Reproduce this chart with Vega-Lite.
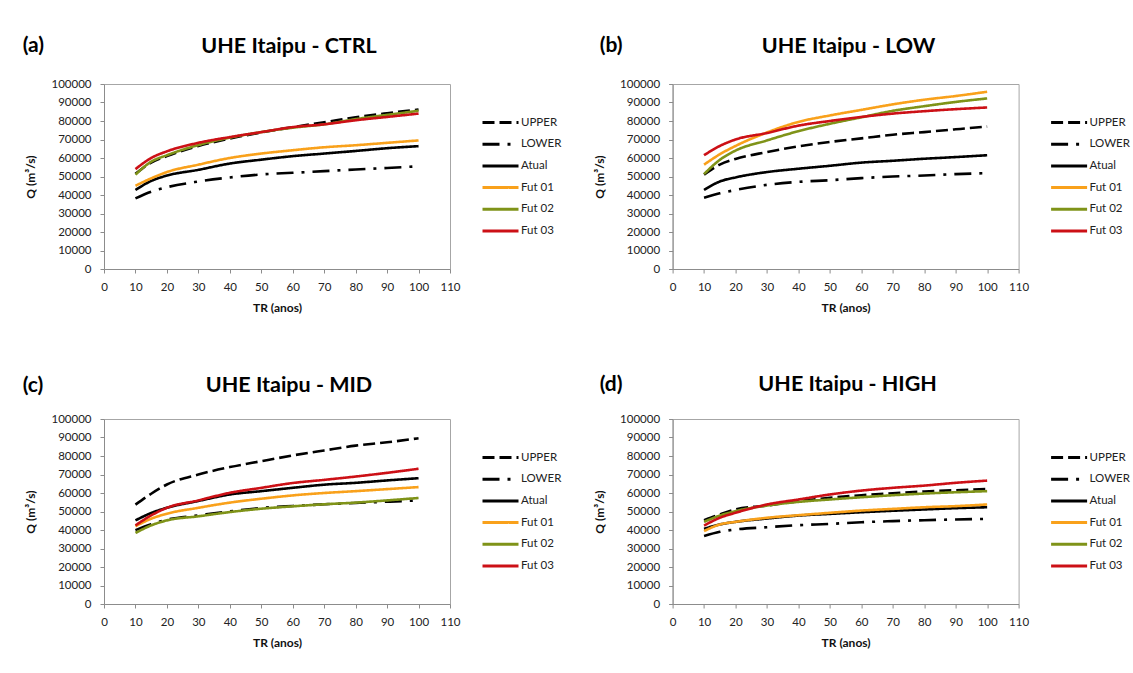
{
  "$schema": "https://vega.github.io/schema/vega-lite/v6.json",
  "padding": {"left": 22, "top": 34, "right": 0, "bottom": 0},
  "background": "white",
  "datasets": {"q": [
    {"p":"a","s":"UPPER","t":10,"q":51500},{"p":"a","s":"UPPER","t":15,"q":57500},{"p":"a","s":"UPPER","t":20,"q":61000},{"p":"a","s":"UPPER","t":30,"q":66500},{"p":"a","s":"UPPER","t":40,"q":70500},{"p":"a","s":"UPPER","t":50,"q":73800},{"p":"a","s":"UPPER","t":60,"q":76700},{"p":"a","s":"UPPER","t":70,"q":79300},{"p":"a","s":"UPPER","t":80,"q":82000},{"p":"a","s":"UPPER","t":90,"q":84200},{"p":"a","s":"UPPER","t":100,"q":86200},
    {"p":"a","s":"LOWER","t":10,"q":38200},{"p":"a","s":"LOWER","t":15,"q":41800},{"p":"a","s":"LOWER","t":20,"q":44200},{"p":"a","s":"LOWER","t":30,"q":47300},{"p":"a","s":"LOWER","t":40,"q":49500},{"p":"a","s":"LOWER","t":50,"q":51100},{"p":"a","s":"LOWER","t":60,"q":52000},{"p":"a","s":"LOWER","t":70,"q":52900},{"p":"a","s":"LOWER","t":80,"q":53800},{"p":"a","s":"LOWER","t":90,"q":54600},{"p":"a","s":"LOWER","t":100,"q":55500},
    {"p":"a","s":"Atual","t":10,"q":42700},{"p":"a","s":"Atual","t":15,"q":47600},{"p":"a","s":"Atual","t":20,"q":50500},{"p":"a","s":"Atual","t":30,"q":53600},{"p":"a","s":"Atual","t":40,"q":57000},{"p":"a","s":"Atual","t":50,"q":59100},{"p":"a","s":"Atual","t":60,"q":61000},{"p":"a","s":"Atual","t":70,"q":62400},{"p":"a","s":"Atual","t":80,"q":63800},{"p":"a","s":"Atual","t":90,"q":65300},{"p":"a","s":"Atual","t":100,"q":66400},
    {"p":"a","s":"Fut 01","t":10,"q":45000},{"p":"a","s":"Fut 01","t":15,"q":49000},{"p":"a","s":"Fut 01","t":20,"q":52400},{"p":"a","s":"Fut 01","t":30,"q":56400},{"p":"a","s":"Fut 01","t":40,"q":60000},{"p":"a","s":"Fut 01","t":50,"q":62400},{"p":"a","s":"Fut 01","t":60,"q":64200},{"p":"a","s":"Fut 01","t":70,"q":65800},{"p":"a","s":"Fut 01","t":80,"q":66900},{"p":"a","s":"Fut 01","t":90,"q":68200},{"p":"a","s":"Fut 01","t":100,"q":69500},
    {"p":"a","s":"Fut 02","t":10,"q":51000},{"p":"a","s":"Fut 02","t":15,"q":58000},{"p":"a","s":"Fut 02","t":20,"q":61500},{"p":"a","s":"Fut 02","t":30,"q":67000},{"p":"a","s":"Fut 02","t":40,"q":71000},{"p":"a","s":"Fut 02","t":50,"q":74000},{"p":"a","s":"Fut 02","t":60,"q":76400},{"p":"a","s":"Fut 02","t":70,"q":78200},{"p":"a","s":"Fut 02","t":80,"q":81000},{"p":"a","s":"Fut 02","t":90,"q":83300},{"p":"a","s":"Fut 02","t":100,"q":85500},
    {"p":"a","s":"Fut 03","t":10,"q":54000},{"p":"a","s":"Fut 03","t":15,"q":60000},{"p":"a","s":"Fut 03","t":20,"q":63600},{"p":"a","s":"Fut 03","t":30,"q":68200},{"p":"a","s":"Fut 03","t":40,"q":71300},{"p":"a","s":"Fut 03","t":50,"q":74000},{"p":"a","s":"Fut 03","t":60,"q":76700},{"p":"a","s":"Fut 03","t":70,"q":78200},{"p":"a","s":"Fut 03","t":80,"q":80400},{"p":"a","s":"Fut 03","t":90,"q":82200},{"p":"a","s":"Fut 03","t":100,"q":84000},

    {"p":"b","s":"UPPER","t":10,"q":51000},{"p":"b","s":"UPPER","t":15,"q":56400},{"p":"b","s":"UPPER","t":20,"q":59500},{"p":"b","s":"UPPER","t":30,"q":63200},{"p":"b","s":"UPPER","t":40,"q":66300},{"p":"b","s":"UPPER","t":50,"q":68700},{"p":"b","s":"UPPER","t":60,"q":70600},{"p":"b","s":"UPPER","t":70,"q":72600},{"p":"b","s":"UPPER","t":80,"q":74000},{"p":"b","s":"UPPER","t":90,"q":75500},{"p":"b","s":"UPPER","t":100,"q":77000},
    {"p":"b","s":"LOWER","t":10,"q":38500},{"p":"b","s":"LOWER","t":15,"q":40900},{"p":"b","s":"LOWER","t":20,"q":42700},{"p":"b","s":"LOWER","t":30,"q":45500},{"p":"b","s":"LOWER","t":40,"q":47100},{"p":"b","s":"LOWER","t":50,"q":48000},{"p":"b","s":"LOWER","t":60,"q":49100},{"p":"b","s":"LOWER","t":70,"q":50000},{"p":"b","s":"LOWER","t":80,"q":50500},{"p":"b","s":"LOWER","t":90,"q":51300},{"p":"b","s":"LOWER","t":100,"q":51800},
    {"p":"b","s":"Atual","t":10,"q":42700},{"p":"b","s":"Atual","t":15,"q":47300},{"p":"b","s":"Atual","t":20,"q":49500},{"p":"b","s":"Atual","t":30,"q":52400},{"p":"b","s":"Atual","t":40,"q":54200},{"p":"b","s":"Atual","t":50,"q":55800},{"p":"b","s":"Atual","t":60,"q":57500},{"p":"b","s":"Atual","t":70,"q":58500},{"p":"b","s":"Atual","t":80,"q":59600},{"p":"b","s":"Atual","t":90,"q":60500},{"p":"b","s":"Atual","t":100,"q":61500},
    {"p":"b","s":"Fut 01","t":10,"q":56400},{"p":"b","s":"Fut 01","t":15,"q":62000},{"p":"b","s":"Fut 01","t":20,"q":66500},{"p":"b","s":"Fut 01","t":30,"q":73800},{"p":"b","s":"Fut 01","t":40,"q":79500},{"p":"b","s":"Fut 01","t":50,"q":83000},{"p":"b","s":"Fut 01","t":60,"q":86000},{"p":"b","s":"Fut 01","t":70,"q":89000},{"p":"b","s":"Fut 01","t":80,"q":91500},{"p":"b","s":"Fut 01","t":90,"q":93500},{"p":"b","s":"Fut 01","t":100,"q":95800},
    {"p":"b","s":"Fut 02","t":10,"q":51300},{"p":"b","s":"Fut 02","t":15,"q":59000},{"p":"b","s":"Fut 02","t":20,"q":64000},{"p":"b","s":"Fut 02","t":30,"q":69500},{"p":"b","s":"Fut 02","t":40,"q":74500},{"p":"b","s":"Fut 02","t":50,"q":78500},{"p":"b","s":"Fut 02","t":60,"q":82000},{"p":"b","s":"Fut 02","t":70,"q":85500},{"p":"b","s":"Fut 02","t":80,"q":88000},{"p":"b","s":"Fut 02","t":90,"q":90300},{"p":"b","s":"Fut 02","t":100,"q":92200},
    {"p":"b","s":"Fut 03","t":10,"q":61500},{"p":"b","s":"Fut 03","t":15,"q":66500},{"p":"b","s":"Fut 03","t":20,"q":70000},{"p":"b","s":"Fut 03","t":30,"q":73500},{"p":"b","s":"Fut 03","t":40,"q":77500},{"p":"b","s":"Fut 03","t":50,"q":80000},{"p":"b","s":"Fut 03","t":60,"q":82200},{"p":"b","s":"Fut 03","t":70,"q":84000},{"p":"b","s":"Fut 03","t":80,"q":85300},{"p":"b","s":"Fut 03","t":90,"q":86400},{"p":"b","s":"Fut 03","t":100,"q":87300},

    {"p":"c","s":"UPPER","t":10,"q":53700},{"p":"c","s":"UPPER","t":15,"q":59600},{"p":"c","s":"UPPER","t":20,"q":64600},{"p":"c","s":"UPPER","t":30,"q":70000},{"p":"c","s":"UPPER","t":40,"q":74000},{"p":"c","s":"UPPER","t":50,"q":77200},{"p":"c","s":"UPPER","t":60,"q":80300},{"p":"c","s":"UPPER","t":70,"q":83000},{"p":"c","s":"UPPER","t":80,"q":85600},{"p":"c","s":"UPPER","t":90,"q":87400},{"p":"c","s":"UPPER","t":100,"q":89600},
    {"p":"c","s":"LOWER","t":10,"q":39900},{"p":"c","s":"LOWER","t":15,"q":43100},{"p":"c","s":"LOWER","t":20,"q":45600},{"p":"c","s":"LOWER","t":30,"q":47900},{"p":"c","s":"LOWER","t":40,"q":50100},{"p":"c","s":"LOWER","t":50,"q":51900},{"p":"c","s":"LOWER","t":60,"q":53000},{"p":"c","s":"LOWER","t":70,"q":53900},{"p":"c","s":"LOWER","t":80,"q":54600},{"p":"c","s":"LOWER","t":90,"q":55300},{"p":"c","s":"LOWER","t":100,"q":56000},
    {"p":"c","s":"Atual","t":10,"q":45200},{"p":"c","s":"Atual","t":15,"q":49200},{"p":"c","s":"Atual","t":20,"q":52000},{"p":"c","s":"Atual","t":30,"q":55700},{"p":"c","s":"Atual","t":40,"q":59200},{"p":"c","s":"Atual","t":50,"q":61000},{"p":"c","s":"Atual","t":60,"q":62800},{"p":"c","s":"Atual","t":70,"q":64500},{"p":"c","s":"Atual","t":80,"q":65500},{"p":"c","s":"Atual","t":90,"q":66800},{"p":"c","s":"Atual","t":100,"q":68000},
    {"p":"c","s":"Fut 01","t":10,"q":42000},{"p":"c","s":"Fut 01","t":15,"q":46100},{"p":"c","s":"Fut 01","t":20,"q":48800},{"p":"c","s":"Fut 01","t":30,"q":52000},{"p":"c","s":"Fut 01","t":40,"q":54800},{"p":"c","s":"Fut 01","t":50,"q":56900},{"p":"c","s":"Fut 01","t":60,"q":58700},{"p":"c","s":"Fut 01","t":70,"q":60000},{"p":"c","s":"Fut 01","t":80,"q":61000},{"p":"c","s":"Fut 01","t":90,"q":62100},{"p":"c","s":"Fut 01","t":100,"q":63200},
    {"p":"c","s":"Fut 02","t":10,"q":38400},{"p":"c","s":"Fut 02","t":15,"q":42500},{"p":"c","s":"Fut 02","t":20,"q":45200},{"p":"c","s":"Fut 02","t":30,"q":47400},{"p":"c","s":"Fut 02","t":40,"q":49700},{"p":"c","s":"Fut 02","t":50,"q":51500},{"p":"c","s":"Fut 02","t":60,"q":52800},{"p":"c","s":"Fut 02","t":70,"q":53900},{"p":"c","s":"Fut 02","t":80,"q":54800},{"p":"c","s":"Fut 02","t":90,"q":56000},{"p":"c","s":"Fut 02","t":100,"q":57300},
    {"p":"c","s":"Fut 03","t":10,"q":42500},{"p":"c","s":"Fut 03","t":15,"q":47900},{"p":"c","s":"Fut 03","t":20,"q":52000},{"p":"c","s":"Fut 03","t":30,"q":56000},{"p":"c","s":"Fut 03","t":40,"q":60100},{"p":"c","s":"Fut 03","t":50,"q":62800},{"p":"c","s":"Fut 03","t":60,"q":65400},{"p":"c","s":"Fut 03","t":70,"q":67100},{"p":"c","s":"Fut 03","t":80,"q":68900},{"p":"c","s":"Fut 03","t":90,"q":70900},{"p":"c","s":"Fut 03","t":100,"q":73100},

    {"p":"d","s":"UPPER","t":10,"q":45300},{"p":"d","s":"UPPER","t":15,"q":48400},{"p":"d","s":"UPPER","t":20,"q":51100},{"p":"d","s":"UPPER","t":30,"q":53200},{"p":"d","s":"UPPER","t":40,"q":55600},{"p":"d","s":"UPPER","t":50,"q":57400},{"p":"d","s":"UPPER","t":60,"q":58800},{"p":"d","s":"UPPER","t":70,"q":59900},{"p":"d","s":"UPPER","t":80,"q":60800},{"p":"d","s":"UPPER","t":90,"q":61500},{"p":"d","s":"UPPER","t":100,"q":62200},
    {"p":"d","s":"LOWER","t":10,"q":36700},{"p":"d","s":"LOWER","t":15,"q":39000},{"p":"d","s":"LOWER","t":20,"q":40300},{"p":"d","s":"LOWER","t":30,"q":41500},{"p":"d","s":"LOWER","t":40,"q":42600},{"p":"d","s":"LOWER","t":50,"q":43300},{"p":"d","s":"LOWER","t":60,"q":44200},{"p":"d","s":"LOWER","t":70,"q":44800},{"p":"d","s":"LOWER","t":80,"q":45300},{"p":"d","s":"LOWER","t":90,"q":45700},{"p":"d","s":"LOWER","t":100,"q":46000},
    {"p":"d","s":"Atual","t":10,"q":40600},{"p":"d","s":"Atual","t":15,"q":43000},{"p":"d","s":"Atual","t":20,"q":44400},{"p":"d","s":"Atual","t":30,"q":46200},{"p":"d","s":"Atual","t":40,"q":47800},{"p":"d","s":"Atual","t":50,"q":48700},{"p":"d","s":"Atual","t":60,"q":49600},{"p":"d","s":"Atual","t":70,"q":50400},{"p":"d","s":"Atual","t":80,"q":51100},{"p":"d","s":"Atual","t":90,"q":51800},{"p":"d","s":"Atual","t":100,"q":52300},
    {"p":"d","s":"Fut 01","t":10,"q":39400},{"p":"d","s":"Fut 01","t":15,"q":43000},{"p":"d","s":"Fut 01","t":20,"q":44400},{"p":"d","s":"Fut 01","t":30,"q":46600},{"p":"d","s":"Fut 01","t":40,"q":48000},{"p":"d","s":"Fut 01","t":50,"q":49300},{"p":"d","s":"Fut 01","t":60,"q":50500},{"p":"d","s":"Fut 01","t":70,"q":51400},{"p":"d","s":"Fut 01","t":80,"q":52300},{"p":"d","s":"Fut 01","t":90,"q":52900},{"p":"d","s":"Fut 01","t":100,"q":53800},
    {"p":"d","s":"Fut 02","t":10,"q":44400},{"p":"d","s":"Fut 02","t":15,"q":47800},{"p":"d","s":"Fut 02","t":20,"q":50200},{"p":"d","s":"Fut 02","t":30,"q":53200},{"p":"d","s":"Fut 02","t":40,"q":55200},{"p":"d","s":"Fut 02","t":50,"q":56500},{"p":"d","s":"Fut 02","t":60,"q":57700},{"p":"d","s":"Fut 02","t":70,"q":58800},{"p":"d","s":"Fut 02","t":80,"q":59700},{"p":"d","s":"Fut 02","t":90,"q":60400},{"p":"d","s":"Fut 02","t":100,"q":61000},
    {"p":"d","s":"Fut 03","t":10,"q":42400},{"p":"d","s":"Fut 03","t":15,"q":46600},{"p":"d","s":"Fut 03","t":20,"q":49300},{"p":"d","s":"Fut 03","t":30,"q":53800},{"p":"d","s":"Fut 03","t":40,"q":56500},{"p":"d","s":"Fut 03","t":50,"q":59200},{"p":"d","s":"Fut 03","t":60,"q":61300},{"p":"d","s":"Fut 03","t":70,"q":62800},{"p":"d","s":"Fut 03","t":80,"q":64000},{"p":"d","s":"Fut 03","t":90,"q":65500},{"p":"d","s":"Fut 03","t":100,"q":66700}
  ],
  "labels": [{"p":"a","lab":"(a)"},{"p":"b","lab":"(b)"},{"p":"c","lab":"(c)"},{"p":"d","lab":"(d)"}]},
  "config": {
    "font": "Lato",
    "view": {"stroke": "#a6a6a6", "strokeWidth": 1},
    "title": {"font": "Lato", "fontSize": 21.5, "fontWeight": "bold", "color": "#000000"},
    "axis": {"grid": false, "labelOverlap": false, "labelFlush": false, "labelFont": "Lato", "labelFontSize": 11.5, "labelColor": "#222222", "titleFont": "Lato", "titleFontSize": 12, "titleFontWeight": "bold", "titleColor": "#111111", "domainColor": "#8c8c8c", "tickColor": "#8c8c8c", "tickSize": 4},
    "axisX": {"labelPadding": 8, "titlePadding": 10},
    "axisY": {"labelPadding": 9, "titlePadding": 13},
    "legend": {"orient": "none", "legendX": 386, "legendY": 28, "labelFont": "Lato", "labelFontSize": 11.5, "labelColor": "#222222", "symbolType": "M-2,0H2", "symbolSize": 324, "symbolStrokeWidth": 3, "labelOffset": 10, "rowPadding": 4.7, "padding": 0},
    "text": {"font": "Lato", "fontSize": 21, "fontWeight": "bold", "color": "#000000", "align": "left", "baseline": "middle"}
  },
  "concat": [
    {"title": {"text": "UHE Itaipu - CTRL", "dx": 12, "offset": -22}, "width": 346, "height": 185,
     "layer": [
      {"data": {"name": "q"}, "transform": [{"filter": "datum.p === 'a'"}],
       "mark": {"type": "line", "strokeWidth": 2.6, "interpolate": "monotone"},
       "encoding": {
         "x": {"field": "t", "type": "quantitative", "scale": {"domain": [0, 110]}, "axis": {"title": "TR (anos)", "values": [0,10,20,30,40,50,60,70,80,90,100,110]}},
         "y": {"field": "q", "type": "quantitative", "scale": {"domain": [0, 100000]}, "axis": {"title": "Q (m³/s)", "format": "d", "values": [0,10000,20000,30000,40000,50000,60000,70000,80000,90000,100000]}},
         "color": {"field": "s", "type": "nominal", "scale": {"domain": ["UPPER","LOWER","Atual","Fut 01","Fut 02","Fut 03"], "range": ["#000000","#000000","#000000","#f9a11b","#7f9318","#cc1016"]}, "legend": {"title": null}},
         "strokeDash": {"field": "s", "type": "nominal", "scale": {"domain": ["UPPER","LOWER","Atual","Fut 01","Fut 02","Fut 03"], "range": [[12,5],[17,8,3,8],[1,0],[1,0],[1,0],[1,0]]}, "legend": {"title": null}}
       }},
      {"data": {"name": "labels"}, "transform": [{"filter": "datum.p === 'a'"}],
       "mark": {"type": "text"}, "encoding": {"text": {"field": "lab"},
         "x": {"datum": -25.85, "type": "quantitative", "axis": {"title": "TR (anos)", "values": [0,10,20,30,40,50,60,70,80,90,100,110]}},
         "y": {"datum": 120540, "type": "quantitative", "axis": {"title": "Q (m³/s)", "format": "d", "values": [0,10000,20000,30000,40000,50000,60000,70000,80000,90000,100000]}}}}
     ]},
    {"title": {"text": "UHE Itaipu - LOW", "dx": 3, "offset": -22}, "width": 346, "height": 185,
     "layer": [
      {"data": {"name": "q"}, "transform": [{"filter": "datum.p === 'b'"}],
       "mark": {"type": "line", "strokeWidth": 2.6, "interpolate": "monotone"},
       "encoding": {
         "x": {"field": "t", "type": "quantitative", "scale": {"domain": [0, 110]}, "axis": {"title": "TR (anos)", "values": [0,10,20,30,40,50,60,70,80,90,100,110]}},
         "y": {"field": "q", "type": "quantitative", "scale": {"domain": [0, 100000]}, "axis": {"title": "Q (m³/s)", "format": "d", "values": [0,10000,20000,30000,40000,50000,60000,70000,80000,90000,100000]}},
         "color": {"field": "s", "type": "nominal", "scale": {"domain": ["UPPER","LOWER","Atual","Fut 01","Fut 02","Fut 03"], "range": ["#000000","#000000","#000000","#f9a11b","#7f9318","#cc1016"]}, "legend": {"title": null}},
         "strokeDash": {"field": "s", "type": "nominal", "scale": {"domain": ["UPPER","LOWER","Atual","Fut 01","Fut 02","Fut 03"], "range": [[12,5],[17,8,3,8],[1,0],[1,0],[1,0],[1,0]]}, "legend": {"title": null}}
       }},
      {"data": {"name": "labels"}, "transform": [{"filter": "datum.p === 'b'"}],
       "mark": {"type": "text"}, "encoding": {"text": {"field": "lab"},
         "x": {"datum": -23.2, "type": "quantitative", "axis": {"title": "TR (anos)", "values": [0,10,20,30,40,50,60,70,80,90,100,110]}},
         "y": {"datum": 120540, "type": "quantitative", "axis": {"title": "Q (m³/s)", "format": "d", "values": [0,10000,20000,30000,40000,50000,60000,70000,80000,90000,100000]}}}}
     ]},
    {"title": {"text": "UHE Itaipu - MID", "dx": 12, "offset": -22}, "width": 346, "height": 185,
     "layer": [
      {"data": {"name": "q"}, "transform": [{"filter": "datum.p === 'c'"}],
       "mark": {"type": "line", "strokeWidth": 2.6, "interpolate": "monotone"},
       "encoding": {
         "x": {"field": "t", "type": "quantitative", "scale": {"domain": [0, 110]}, "axis": {"title": "TR (anos)", "values": [0,10,20,30,40,50,60,70,80,90,100,110]}},
         "y": {"field": "q", "type": "quantitative", "scale": {"domain": [0, 100000]}, "axis": {"title": "Q (m³/s)", "format": "d", "values": [0,10000,20000,30000,40000,50000,60000,70000,80000,90000,100000]}},
         "color": {"field": "s", "type": "nominal", "scale": {"domain": ["UPPER","LOWER","Atual","Fut 01","Fut 02","Fut 03"], "range": ["#000000","#000000","#000000","#f9a11b","#7f9318","#cc1016"]}, "legend": {"title": null}},
         "strokeDash": {"field": "s", "type": "nominal", "scale": {"domain": ["UPPER","LOWER","Atual","Fut 01","Fut 02","Fut 03"], "range": [[12,5],[17,8,3,8],[1,0],[1,0],[1,0],[1,0]]}, "legend": {"title": null}}
       }},
      {"data": {"name": "labels"}, "transform": [{"filter": "datum.p === 'c'"}],
       "mark": {"type": "text"}, "encoding": {"text": {"field": "lab"},
         "x": {"datum": -25.85, "type": "quantitative", "axis": {"title": "TR (anos)", "values": [0,10,20,30,40,50,60,70,80,90,100,110]}},
         "y": {"datum": 118050, "type": "quantitative", "axis": {"title": "Q (m³/s)", "format": "d", "values": [0,10000,20000,30000,40000,50000,60000,70000,80000,90000,100000]}}}}
     ]},
    {"title": {"text": "UHE Itaipu - HIGH", "dx": 2, "offset": -22}, "width": 346, "height": 185,
     "layer": [
      {"data": {"name": "q"}, "transform": [{"filter": "datum.p === 'd'"}],
       "mark": {"type": "line", "strokeWidth": 2.6, "interpolate": "monotone"},
       "encoding": {
         "x": {"field": "t", "type": "quantitative", "scale": {"domain": [0, 110]}, "axis": {"title": "TR (anos)", "values": [0,10,20,30,40,50,60,70,80,90,100,110]}},
         "y": {"field": "q", "type": "quantitative", "scale": {"domain": [0, 100000]}, "axis": {"title": "Q (m³/s)", "format": "d", "values": [0,10000,20000,30000,40000,50000,60000,70000,80000,90000,100000]}},
         "color": {"field": "s", "type": "nominal", "scale": {"domain": ["UPPER","LOWER","Atual","Fut 01","Fut 02","Fut 03"], "range": ["#000000","#000000","#000000","#f9a11b","#7f9318","#cc1016"]}, "legend": {"title": null}},
         "strokeDash": {"field": "s", "type": "nominal", "scale": {"domain": ["UPPER","LOWER","Atual","Fut 01","Fut 02","Fut 03"], "range": [[12,5],[17,8,3,8],[1,0],[1,0],[1,0],[1,0]]}, "legend": {"title": null}}
       }},
      {"data": {"name": "labels"}, "transform": [{"filter": "datum.p === 'd'"}],
       "mark": {"type": "text"}, "encoding": {"text": {"field": "lab"},
         "x": {"datum": -23.2, "type": "quantitative", "axis": {"title": "TR (anos)", "values": [0,10,20,30,40,50,60,70,80,90,100,110]}},
         "y": {"datum": 118600, "type": "quantitative", "axis": {"title": "Q (m³/s)", "format": "d", "values": [0,10000,20000,30000,40000,50000,60000,70000,80000,90000,100000]}}}}
     ]}
  ],
  "columns": 2,
  "bounds": "flush",
  "spacing": {"row": 150, "column": 222.6},
  "resolve": {"scale": {"color": "independent", "strokeDash": "independent"}}
}
